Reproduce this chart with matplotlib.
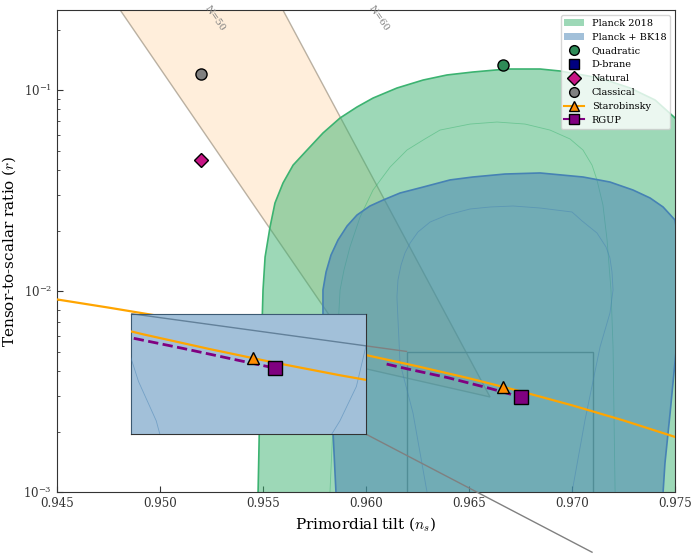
import matplotlib
matplotlib.use("Agg")
import matplotlib.pyplot as plt
from matplotlib.patches import Polygon, Patch
from matplotlib.lines import Line2D
from mpl_toolkits.axes_grid1.inset_locator import mark_inset

plt.rcParams['font.family'] = 'serif'
plt.rcParams['font.serif'] = ['DejaVu Serif']
plt.rcParams['mathtext.fontset'] = 'cm'

# Planck 2018, 95% region boundary
p18_95_ns = [0.95476, 0.95476, 0.95485, 0.95500, 0.95510, 0.95534, 0.95558, 0.95597, 0.95646,
             0.95714, 0.95791, 0.95874, 0.95956, 0.96034, 0.96150, 0.96277, 0.96393, 0.96519,
             0.96684, 0.96845, 0.96942, 0.97136, 0.97282, 0.97403, 0.97500,
             0.97621, 0.97680, 0.97699, 0.97700]
p18_95_r = [1e-4, 1e-3, 0.00287, 0.01012, 0.01476, 0.02082, 0.0274, 0.03446, 0.0423,
            0.0503, 0.0611, 0.0726, 0.0823, 0.0912, 0.1023, 0.1121, 0.1188, 0.1229,
            0.1272, 0.1272, 0.1243, 0.1147, 0.1023, 0.0892, 0.0726,
            0.0448, 0.016, 0.00287, 1e-4]
# Planck 2018, 68% line
p18_68_ns = [0.95825, 0.95825, 0.95845, 0.95874, 0.95893, 0.95922, 0.95971, 0.96034, 0.96117,
             0.96199, 0.96286, 0.96359, 0.96505, 0.96636, 0.96772, 0.96893, 0.96990, 0.97053,
             0.97097, 0.97121, 0.97150, 0.97170, 0.97189, 0.97199, 0.97204, 0.97209, 0.97209]
p18_68_r = [1e-4, 1e-3, 0.00287, 0.01012, 0.01272, 0.01656, 0.02334, 0.0318, 0.0414,
            0.0503, 0.0571, 0.0632, 0.0677, 0.0693, 0.0677, 0.0632, 0.0571, 0.0503,
            0.0423, 0.0357, 0.0268, 0.01794, 0.01012, 0.00527, 0.00228, 1e-3, 1e-4]

# Planck + BK18, 95% region boundary
bk_95_ns = [0.95854, 0.95854, 0.95840, 0.95796, 0.95791, 0.95791, 0.95806, 0.95830, 0.95864,
            0.95908, 0.95956, 0.96019, 0.96083, 0.96165, 0.96277, 0.96408, 0.96519, 0.96675,
            0.96845, 0.97053, 0.97184, 0.97296, 0.97379, 0.97442, 0.97500, 0.97529,
            0.97534, 0.97510, 0.97476, 0.97451, 0.97442, 0.97437]
bk_95_r = [1e-4, 1e-3, 0.00197, 0.00454, 0.00777, 0.01012, 0.01243, 0.0151, 0.01794,
           0.02106, 0.02388, 0.02648, 0.02836, 0.03073, 0.0329, 0.0357, 0.03692, 0.0382,
           0.03866, 0.03692, 0.03485, 0.0318, 0.02902, 0.02618, 0.02255, 0.01426,
           0.00902, 0.0057, 0.00247, 0.00139, 1e-3, 1e-4]
# Planck + BK18, 68% line
bk_68_ns = [0.96311, 0.96296, 0.96228, 0.96165, 0.96150, 0.96155, 0.96170, 0.96189, 0.96214,
            0.96252, 0.96311, 0.96393, 0.96505, 0.96602, 0.96714, 0.96845, 0.97000, 0.97049,
            0.97121, 0.97165, 0.97184, 0.97194, 0.97199, 0.97184, 0.97136, 0.97063, 0.97000,
            0.96966]
bk_68_r = [0.00046, 1e-3, 0.00247, 0.00438, 0.00934, 0.01134, 0.01347, 0.01545, 0.01733,
           0.01966, 0.02204, 0.02388, 0.02559, 0.02618, 0.02648, 0.02588, 0.02472, 0.0223,
           0.01944, 0.01656, 0.01459, 0.01243, 0.01012, 0.00777, 0.00527, 0.00228, 1e-3,
           0.00046]

# N = 50..60 band
band_ns = [0.9467, 0.9549, 0.96602, 0.9600]
band_r = [0.4, 0.4, 0.00297, 0.0041]

# Starobinsky curve
staro_ns = [0.945, 0.9475, 0.950, 0.9525, 0.955, 0.9575, 0.960, 0.9625, 0.965, 0.9675,
            0.970, 0.9725, 0.975]
staro_r = [0.00908, 0.00827, 0.0075, 0.00677, 0.00608, 0.00542, 0.0048, 0.00422, 0.00368,
           0.00317, 0.0027, 0.00227, 0.00188]
staro_pt = (0.96667, 0.00333)

# RGUP curve
rgup_ns = [0.961, 0.962, 0.964, 0.966, 0.9675]
rgup_r = [0.00433, 0.0041, 0.0037, 0.00328, 0.00297]
rgup_pt = (0.9675, 0.00297)

quad_pt = (0.96665, 0.133)
classical_pt = (0.952, 0.120)
natural_pt = (0.952, 0.045)
dbrane_ns = []
dbrane_r = []

green = 'mediumseagreen'
blue = 'steelblue'

fig = plt.figure(figsize=(6.97, 5.6), dpi=100)
ax = fig.add_axes([0.0818, 0.1214, 0.8867, 0.8607])


def draw_contours(a, with_green=True):
    if with_green:
        a.add_patch(Polygon(list(zip(p18_95_ns, p18_95_r)), closed=True, facecolor=green,
                            alpha=0.5, edgecolor='none', zorder=2))
        a.plot(p18_95_ns, p18_95_r, color=green, lw=1.2, zorder=2.1)
        a.plot(p18_68_ns, p18_68_r, color=green, lw=0.6, alpha=0.5, zorder=2.1)
    a.add_patch(Polygon(list(zip(bk_95_ns, bk_95_r)), closed=True, facecolor=blue,
                        alpha=0.5, edgecolor='none', zorder=3))
    a.plot(bk_95_ns, bk_95_r, color=blue, lw=1.2, zorder=3.1)
    a.plot(bk_68_ns, bk_68_r, color=blue, lw=0.6, alpha=0.5, zorder=3.1)


def draw_models(a):
    a.plot(staro_ns, staro_r, color='orange', lw=1.6, zorder=4)
    a.plot(rgup_ns, rgup_r, color='purple', lw=2, ls='--', zorder=4.1)
    a.plot(*staro_pt, marker='^', ms=9, mfc='darkorange', mec='black', ls='none', zorder=5)
    a.plot(*rgup_pt, marker='s', ms=10, mfc='purple', mec='black', ls='none', zorder=5)


# band
ax.add_patch(Polygon(list(zip(band_ns, band_r)), closed=True, facecolor='bisque',
                     edgecolor='#8c8270', lw=1, alpha=0.6, zorder=1))
ax.text(0.95265, 0.227, 'N=50', color='gray', fontsize=7, rotation=-55,
        ha='center', va='center')
ax.text(0.96063, 0.227, 'N=60', color='gray', fontsize=7, rotation=-55,
        ha='center', va='center')

draw_contours(ax)
draw_models(ax)

ax.plot(*quad_pt, marker='o', ms=8, mfc='seagreen', mec='black', ls='none', zorder=5)
ax.plot(*classical_pt, marker='o', ms=8, mfc='gray', mec='black', ls='none', zorder=5)
ax.plot(*natural_pt, marker='D', ms=7, mfc='mediumvioletred', mec='black', ls='none', zorder=5)
ax.plot(dbrane_ns, dbrane_r, marker='s', ms=8, mfc='navy', mec='black', ls='none', zorder=5)

ax.set_yscale('log')
ax.set_xlim(0.945, 0.975)
ax.set_ylim(1e-3, 0.25)
ax.set_xticks([0.945, 0.950, 0.955, 0.960, 0.965, 0.970, 0.975])
ax.set_xticklabels(['0.945', '0.950', '0.955', '0.960', '0.965', '0.970', '0.975'])
ax.tick_params(which='both', direction='in', labelsize=8.5, colors='#333333')
ax.tick_params(which='major', length=4)
ax.tick_params(which='minor', length=2)
for s in ax.spines.values():
    s.set_color('#333333')
ax.set_xlabel('Primordial tilt ($n_s$)', fontsize=11)
ax.set_ylabel('Tensor-to-scalar ratio ($r$)', fontsize=11)

handles = [
    Patch(facecolor=green, alpha=0.5, edgecolor='none', label='Planck 2018'),
    Patch(facecolor=blue, alpha=0.5, edgecolor='none', label='Planck + BK18'),
    Line2D([], [], marker='o', ms=7, mfc='seagreen', mec='black', ls='none', label='Quadratic'),
    Line2D([], [], marker='s', ms=7, mfc='navy', mec='black', ls='none', label='D-brane'),
    Line2D([], [], marker='D', ms=7, mfc='mediumvioletred', mec='black', ls='none', label='Natural'),
    Line2D([], [], marker='o', ms=7, mfc='gray', mec='black', ls='none', label='Classical'),
    Line2D([], [], marker='^', ms=7, color='orange', mfc='darkorange', mec='black', label='Starobinsky'),
    Line2D([], [], marker='s', ms=7, color='purple', mfc='purple', mec='black', label='RGUP'),
]
ax.legend(handles=handles, loc='upper right', fontsize=7)

# zoomed inset
axins = ax.inset_axes([0.12, 0.12, 0.38, 0.25])
draw_contours(axins, with_green=False)
draw_models(axins)
axins.set_xlim(0.962, 0.971)
axins.set_ylim(0.0005, 0.005)
axins.set_xticks([])
axins.set_yticks([])
for s in axins.spines.values():
    s.set_color('#333333')
mark_inset(ax, axins, loc1=2, loc2=4, fc='none', ec='0.5', lw=1)

fig.savefig('out.png', dpi=100)
